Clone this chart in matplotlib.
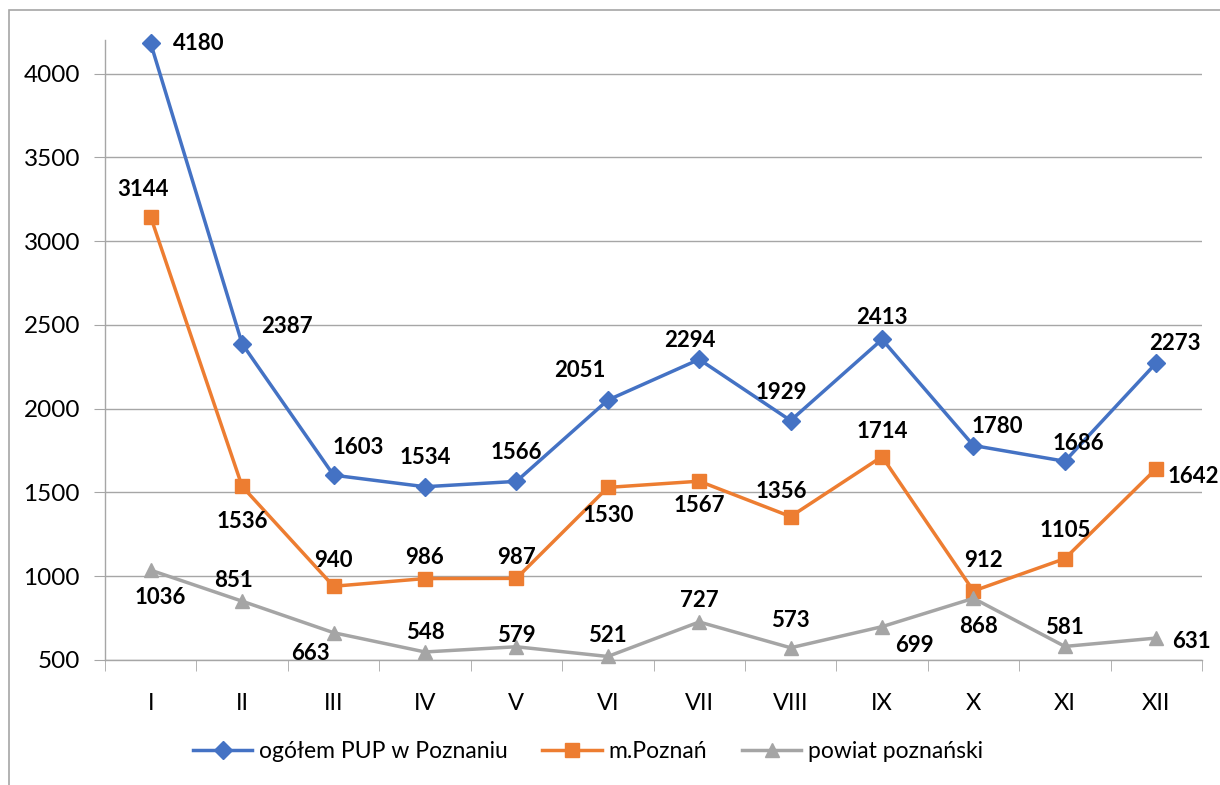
import matplotlib.pyplot as plt
from matplotlib.patches import Rectangle

plt.rcParams['font.family'] = ['Lato', 'DejaVu Sans']

months = ['I', 'II', 'III', 'IV', 'V', 'VI', 'VII', 'VIII', 'IX', 'X', 'XI', 'XII']
ogolem = [4180, 2387, 1603, 1534, 1566, 2051, 2294, 1929, 2413, 1780, 1686, 2273]
poznan = [3144, 1536, 940, 986, 987, 1530, 1567, 1356, 1714, 912, 1105, 1642]
powiat = [1036, 851, 663, 548, 579, 521, 727, 573, 699, 868, 581, 631]
names = ['ogółem PUP w Poznaniu', 'm.Poznań', 'powiat poznański']

# label offsets in pixels (dx, dy), dy positive = up
off_ogolem = [(48, 0), (45, 17), (25, 28), (0, 29), (0, 29), (-28, 30),
              (-9, 19), (-9, 28), (0, 22), (24, 19), (13, 18), (19, 19)]
off_poznan = [(-8, 27), (0, -35), (0, 26), (0, 21), (0, 21), (0, -28),
              (0, -24), (-9, 25), (0, 25), (10, 30), (0, 28), (37, -8)]
off_powiat = [(10, -27), (-9, 21), (-23, -21), (0, 19), (0, 11), (0, 21),
              (0, 21), (0, 27), (32, -19), (5, -28), (0, 19), (35, -3)]

fig = plt.figure(figsize=(12.2, 7.85), dpi=100)
ax = fig.add_axes([105 / 1220, 1 - 660 / 785, 1097 / 1220, 620 / 785])

# outer chart frame (cut at right and bottom)
fig.patches.append(Rectangle((9 / 1220, -0.1), 1.2, 1 - 10 / 785 + 0.1,
                             transform=fig.transFigure, fill=False,
                             edgecolor='#a6a6a6', linewidth=1.2))

x = list(range(len(months)))
series = [(ogolem, '#4472C4', 'D', 9, off_ogolem),
          (poznan, '#ED7D31', 's', 10, off_poznan),
          (powiat, '#A5A5A5', '^', 10, off_powiat)]

for (vals, col, mk, ms, offs), name in zip(series, names):
    ax.plot(x, vals, color=col, marker=mk, markersize=ms, linewidth=2.5,
            label=name, zorder=3, clip_on=False)
    for xi, v, (dx, dy) in zip(x, vals, offs):
        ax.annotate(str(v), (xi, v), xytext=(dx * 0.72, dy * 0.72),
                    textcoords='offset points', ha='center', va='center',
                    fontsize=16, fontweight='bold', color='black', zorder=4,
                    annotation_clip=False)

ax.set_xlim(-0.5, 11.5)
ax.set_ylim(500, 4200)
ax.set_yticks([500, 1000, 1500, 2000, 2500, 3000, 3500, 4000])
ax.set_xticks(x)
ax.set_xticklabels(months)
ax.set_xticks([i - 0.5 for i in range(13)], minor=True)
ax.tick_params(axis='x', which='major', length=0, pad=24, labelsize=17)
ax.tick_params(axis='x', which='minor', length=8, color='#a6a6a6')
ax.tick_params(axis='y', length=8, color='#a6a6a6', pad=10, labelsize=17.5)

ax.grid(axis='y', color='#a6a6a6', linewidth=1)
ax.set_axisbelow(True)
for s in ['top', 'right']:
    ax.spines[s].set_visible(False)
for s in ['left', 'bottom']:
    ax.spines[s].set_color('#a6a6a6')
    ax.spines[s].set_linewidth(1)

fig.legend(loc='center', bbox_to_anchor=(588 / 1220, 1 - 752 / 785), ncol=3,
           frameon=False, fontsize=16.5, handlelength=2.6, columnspacing=1.5,
           handletextpad=0.3)

fig.savefig('out.png', dpi=100)
